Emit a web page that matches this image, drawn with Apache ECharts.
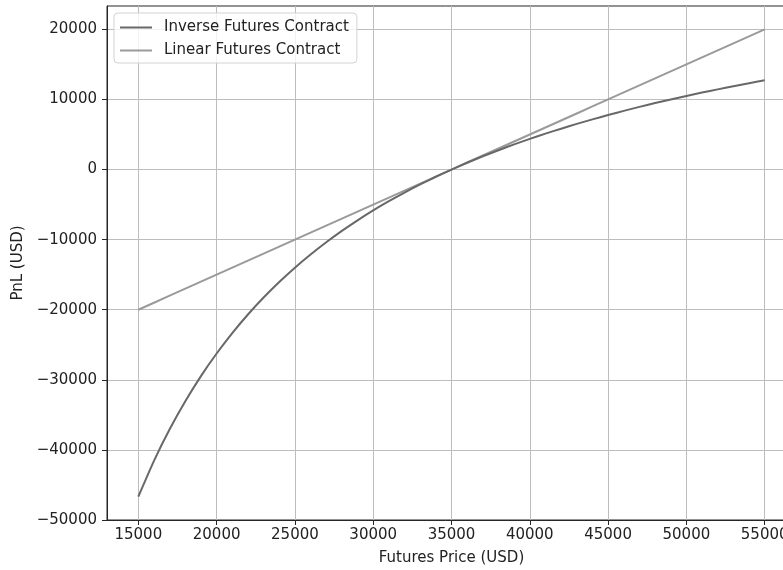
<!DOCTYPE html>
<html>
<head>
<meta charset="utf-8">
<title>Inverse vs Linear Futures PnL</title>
<script src="https://cdn.jsdelivr.net/npm/echarts@6/dist/echarts.min.js"></script>
<style>
  html, body { margin: 0; padding: 0; background: #fff; overflow: hidden; }
  #chart { width: 783px; height: 570px; }
</style>
</head>
<body>
<div id="chart"></div>
<script>
// Futures price grid (USD)
const prices = [
  15000, 16000, 17000, 18000, 19000, 20000, 21000, 22000, 23000, 24000,
  25000, 26000, 27000, 28000, 29000, 30000, 31000, 32000, 33000, 34000,
  35000, 36000, 37000, 38000, 39000, 40000, 41000, 42000, 43000, 44000,
  45000, 46000, 47000, 48000, 49000, 50000, 51000, 52000, 53000, 54000,
  55000
];

// PnL of the inverse contract at each price (USD)
const inversePnl = [
  -46670, -41560, -37060, -33060, -29470, -26250, -23330, -20680, -18260, -16040,
  -14000, -12120, -10370, -8750, -7240, -5830, -4520, -3280, -2120, -1030,
  0, 970, 1890, 2760, 3590, 4380, 5120, 5830, 6510, 7160,
  7780, 8370, 8940, 9480, 10000, 10500, 10980, 11440, 11890, 12310,
  12730
];

// PnL of the linear contract at each price (USD)
const linearPnl = [
  -20000, -19000, -18000, -17000, -16000, -15000, -14000, -13000, -12000, -11000,
  -10000, -9000, -8000, -7000, -6000, -5000, -4000, -3000, -2000, -1000,
  0, 1000, 2000, 3000, 4000, 5000, 6000, 7000, 8000, 9000,
  10000, 11000, 12000, 13000, 14000, 15000, 16000, 17000, 18000, 19000,
  20000
];

const xTicks = [15000, 20000, 25000, 30000, 35000, 40000, 45000, 50000, 55000];
const yTicks = [-50000, -40000, -30000, -20000, -10000, 0, 10000, 20000];

const seriesNames = ['Inverse Futures Contract', 'Linear Futures Contract'];

const FONT = 'DejaVu Sans';
const FS = 15;
const TEXT = '#222';
const SPINE = '#262626';
const GRIDLINE = '#bdbdbd';

const pair = (xs, ys) => xs.map((x, i) => [x, ys[i]]);
const fmt = v => (v < 0 ? '\u2212' + Math.abs(v) : String(v));

const chart = echarts.init(document.getElementById('chart'), null, { renderer: 'canvas' });

chart.setOption({
  animation: false,
  backgroundColor: '#fff',
  textStyle: { fontFamily: FONT },
  // plot area runs past the right edge of the canvas
  grid: {
    left: 107, top: 6, width: 689, height: 514,
    outerBoundsMode: 'none',
    containLabel: false,
    show: true, borderColor: SPINE, borderWidth: 1, backgroundColor: 'transparent'
  },
  legend: {
    orient: 'vertical',
    left: 114, top: 13,
    padding: [6, 8, 4, 6],
    itemGap: 6,
    itemWidth: 32, itemHeight: 2,
    backgroundColor: 'rgba(255,255,255,0.8)',
    borderColor: '#d3d3d3', borderWidth: 1, borderRadius: 4,
    textStyle: {
      fontFamily: FONT, fontSize: FS, color: TEXT,
      lineHeight: 17, padding: [0, 0, 0, 7]
    },
    data: seriesNames.map(n => ({ name: n, icon: 'rect' }))
  },
  xAxis: {
    type: 'value',
    min: 13000, max: 57000,
    name: 'Futures Price (USD)',
    nameLocation: 'middle', nameGap: 31,
    nameTextStyle: { fontFamily: FONT, fontSize: FS, color: TEXT },
    axisLine: { show: true, onZero: false, lineStyle: { color: SPINE, width: 1 } },
    axisTick: { show: true, length: 5, customValues: xTicks, lineStyle: { color: SPINE, width: 1 } },
    axisLabel: {
      customValues: xTicks, margin: 8, hideOverlap: false,
      fontFamily: FONT, fontSize: FS, color: TEXT, formatter: fmt
    },
    splitLine: { show: true, lineStyle: { color: GRIDLINE, width: 1 } }
  },
  yAxis: {
    type: 'value',
    min: -50000, max: 23333,
    name: 'PnL (USD)',
    nameLocation: 'middle', nameGap: 80, nameRotate: 90,
    nameTextStyle: { fontFamily: FONT, fontSize: FS, color: TEXT },
    axisLine: { show: true, onZero: false, lineStyle: { color: SPINE, width: 1 } },
    axisTick: { show: true, length: 5, customValues: yTicks, lineStyle: { color: SPINE, width: 1 } },
    axisLabel: {
      customValues: yTicks, margin: 10,
      fontFamily: FONT, fontSize: FS, color: TEXT, formatter: fmt
    },
    splitLine: { show: true, lineStyle: { color: GRIDLINE, width: 1 } }
  },
  series: [
    {
      name: seriesNames[0],
      type: 'line',
      data: pair(prices, inversePnl),
      smooth: 0.2,
      showSymbol: false,
      lineStyle: { color: '#686868', width: 2 },
      itemStyle: { color: '#686868' },
      z: 3
    },
    {
      name: seriesNames[1],
      type: 'line',
      data: pair(prices, linearPnl),
      showSymbol: false,
      lineStyle: { color: '#9a9a9a', width: 2 },
      itemStyle: { color: '#9a9a9a' },
      z: 2
    }
  ]
});
</script>
</body>
</html>
